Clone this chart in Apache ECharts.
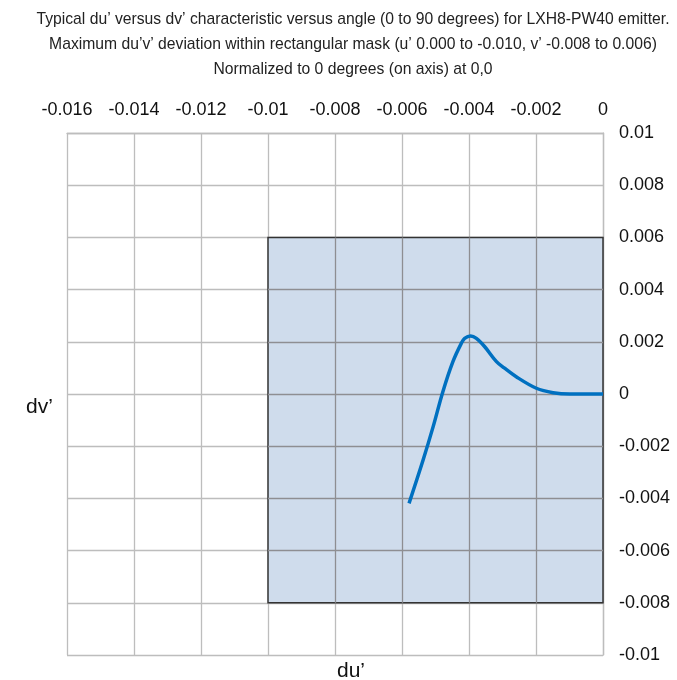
<!DOCTYPE html>
<html>
<head>
<meta charset="utf-8">
<script src="https://cdn.jsdelivr.net/npm/echarts@6/dist/echarts.min.js"></script>
<style>html,body{margin:0;padding:0;background:#fff}#c{width:677px;height:680px}</style>
</head>
<body>
<div id="c"></div>
<script>
const titleLines = [
  "Typical du\u2019 versus dv\u2019 characteristic versus angle (0 to 90 degrees) for LXH8-PW40 emitter.",
  "Maximum du\u2019v\u2019 deviation within rectangular mask (u\u2019 0.000 to -0.010, v\u2019 -0.008 to 0.006)",
  "Normalized to 0 degrees (on axis) at 0,0"
];
const duValues = [-0.00579, -0.00537, -0.00507, -0.00478, -0.00448, -0.00423, -0.00413, -0.00395, -0.00378, -0.00353, -0.00318, -0.00295, -0.00259, -0.00199, -0.00149, -0.00099, -0.0005, 0];
const dvValues = [-0.00419, -0.00253, -0.00125, 0.00009, 0.00124, 0.00194, 0.00213, 0.00222, 0.00213, 0.00181, 0.00124, 0.00100, 0.00066, 0.00022, 0.00005, 0.0, 0.0, 0.0];
const maskU = [-0.010, 0.000];
const maskV = [-0.008, 0.006];
const xRange = [-0.016, 0];
const yRange = [-0.01, 0.01];
const tickStep = 0.002;

// grid lines that lie inside the mask (drawn over it, darker)
const innerLines = [];
for (let k = Math.round(maskU[0] / tickStep) + 1; k < Math.round(maskU[1] / tickStep); k++) {
  const u = +(k * tickStep).toFixed(6);
  innerLines.push([{ coord: [u, maskV[0]] }, { coord: [u, maskV[1]] }]);
}
for (let k = Math.round(maskV[0] / tickStep) + 1; k < Math.round(maskV[1] / tickStep); k++) {
  const v = +(k * tickStep).toFixed(6);
  innerLines.push([{ coord: [maskU[0], v] }, { coord: [maskU[1], v] }]);
}

const chart = echarts.init(document.getElementById('c'));
const font = 'Liberation Sans, Arial, sans-serif';
const gridColor = '#bdbdbd';
chart.setOption({
  animation: false,
  textStyle: { fontFamily: font },
  grid: { left: 67, right: 74, top: 133, bottom: 25 },
  xAxis: {
    type: 'value', position: 'top', min: xRange[0], max: xRange[1], interval: tickStep,
    axisLine: { show: true, onZero: false, lineStyle: { color: gridColor, width: 1.3 } },
    axisTick: { show: false },
    splitLine: { show: true, lineStyle: { color: gridColor, width: 1.3 } },
    axisLabel: { fontSize: 18, color: '#111', margin: 14, fontFamily: font }
  },
  yAxis: {
    type: 'value', position: 'right', min: yRange[0], max: yRange[1], interval: tickStep,
    axisLine: { show: true, onZero: false, lineStyle: { color: gridColor, width: 1.3 } },
    axisTick: { show: false },
    splitLine: { show: true, lineStyle: { color: gridColor, width: 1.3 } },
    axisLabel: { fontSize: 18, color: '#111', margin: 16, fontFamily: font }
  },
  graphic: titleLines.map((t, i) => ({
    type: 'text', x: 353, y: 20 + i * 25,
    style: { text: t, fontSize: 15.7, fill: '#222', fontFamily: font, align: 'center', verticalAlign: 'middle' }
  })).concat([
    { type: 'text', left: 26, top: 397, style: { text: 'dv\u2019', fontSize: 21, fill: '#111', fontFamily: font } },
    { type: 'text', left: 337, top: 661, style: { text: 'du\u2019', fontSize: 21, fill: '#111', fontFamily: font } }
  ]),
  series: [
    {
      type: 'line', data: [], silent: true, z: 1,
      markArea: {
        silent: true,
        itemStyle: { color: '#cfdcec', borderColor: '#333', borderWidth: 1.5 },
        data: [[{ coord: [maskU[0], maskV[1]] }, { coord: [maskU[1], maskV[0]] }]]
      },
      markLine: {
        silent: true, symbol: 'none', label: { show: false },
        lineStyle: { color: '#8e8e92', width: 1.3, type: 'solid' },
        data: innerLines
      }
    },
    {
      type: 'line', smooth: 0.35, smoothMonotone: 'none', showSymbol: false, symbol: 'none',
      data: duValues.map((u, i) => [u, dvValues[i]]),
      lineStyle: { color: '#0070c0', width: 3.5 },
      z: 5
    }
  ]
});
</script>
</body>
</html>
